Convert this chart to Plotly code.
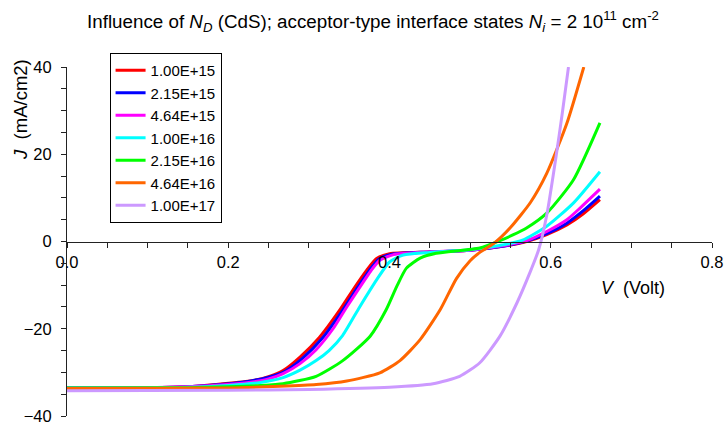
import plotly.graph_objects as go

# Donor density of the CdS layer (legend labels)
labels = ["1.00E+15", "2.15E+15", "4.64E+15", "1.00E+16", "2.15E+16", "4.64E+16", "1.00E+17"]
colors = ["#FF0000", "#0000FF", "#FF00FF", "#00FFFF", "#00FF00", "#FF6600", "#CC99FF"]

# J-V curves: voltage (V) and current density (mA/cm2)
v_1e15 = [0.0, 0.10, 0.15, 0.185, 0.227, 0.25, 0.268, 0.289, 0.313, 0.338, 0.355, 0.372, 0.384, 0.40, 0.45, 0.50, 0.54, 0.57, 0.595, 0.62, 0.64, 0.661]
j_1e15 = [-33.6, -33.5, -33.3, -32.8, -32.0, -31.0, -29.6, -26.5, -22.0, -15.8, -11.0, -6.5, -3.9, -2.8, -2.4, -2.0, -1.1, 0.0, 1.6, 3.8, 6.3, 9.6]

v_215e15 = [0.0, 0.10, 0.15, 0.19, 0.23, 0.25, 0.27, 0.292, 0.316, 0.341, 0.358, 0.375, 0.387, 0.403, 0.45, 0.50, 0.54, 0.57, 0.595, 0.62, 0.64, 0.661]
j_215e15 = [-33.6, -33.5, -33.3, -32.8, -31.9, -31.1, -29.8, -26.8, -22.3, -16.0, -11.2, -6.6, -4.0, -2.9, -2.4, -2.0, -1.1, 0.1, 1.8, 4.2, 7.0, 10.4]

v_464e15 = [0.0, 0.10, 0.15, 0.19, 0.23, 0.25, 0.268, 0.289, 0.309, 0.33, 0.347, 0.362, 0.377, 0.388, 0.405, 0.45, 0.50, 0.54, 0.57, 0.595, 0.62, 0.636, 0.661]
j_464e15 = [-33.6, -33.5, -33.3, -32.9, -32.2, -31.5, -30.3, -28.0, -24.8, -20.0, -15.0, -10.8, -6.7, -4.3, -3.0, -2.4, -2.0, -1.0, 0.2, 2.3, 5.0, 7.6, 12.0]

v_1e16 = [0.0, 0.10, 0.15, 0.20, 0.24, 0.268, 0.289, 0.309, 0.325, 0.342, 0.363, 0.384, 0.40, 0.417, 0.45, 0.50, 0.54, 0.565, 0.595, 0.628, 0.661]
j_1e16 = [-33.6, -33.5, -33.4, -33.0, -32.3, -31.2, -29.5, -27.3, -25.0, -21.5, -15.0, -8.8, -4.7, -3.1, -2.5, -1.9, -0.8, 0.3, 3.5, 8.8, 16.0]

v_215e16 = [0.0, 0.15, 0.20, 0.24, 0.268, 0.309, 0.342, 0.376, 0.396, 0.409, 0.421, 0.438, 0.458, 0.512, 0.537, 0.553, 0.570, 0.595, 0.628, 0.661]
j_215e16 = [-33.6, -33.5, -33.3, -33.0, -32.6, -30.9, -27.3, -21.7, -15.6, -10.3, -6.1, -3.8, -2.7, -1.5, 0.2, 1.5, 3.1, 6.5, 14.1, 27.2]

v_464e16 = [0.0, 0.20, 0.264, 0.309, 0.347, 0.388, 0.413, 0.438, 0.463, 0.483, 0.50, 0.512, 0.529, 0.55, 0.575, 0.595, 0.62, 0.641]
j_464e16 = [-33.7, -33.6, -33.2, -32.8, -32.0, -30.1, -27.3, -22.5, -15.6, -8.5, -4.4, -2.5, -0.5, 3.2, 9.0, 15.6, 27.1, 40.0]

v_1e17 = [0.0, 0.20, 0.30, 0.40, 0.454, 0.487, 0.512, 0.537, 0.558, 0.574, 0.585, 0.595, 0.607, 0.614, 0.622]
j_1e17 = [-34.2, -34.1, -33.9, -33.4, -32.6, -30.9, -27.8, -21.7, -14.1, -7.2, -1.9, 6.0, 20.0, 29.0, 40.0]

voltages = [v_1e15, v_215e15, v_464e15, v_1e16, v_215e16, v_464e16, v_1e17]
currents = [j_1e15, j_215e15, j_464e15, j_1e16, j_215e16, j_464e16, j_1e17]

FONT = "Liberation Sans, Arial, sans-serif"
AXIS = "#222"

fig = go.Figure()
for name, col, v, j in zip(labels, colors, voltages, currents):
    fig.add_trace(go.Scatter(
        x=v, y=j, name=name, mode="lines",
        line=dict(color=col, width=3, shape="spline", smoothing=0.6),
    ))

fig.update_layout(
    width=725, height=423,
    margin=dict(l=67, r=13, t=67, b=7, autoexpand=False),
    paper_bgcolor="white", plot_bgcolor="white",
    font=dict(family=FONT, size=16, color="black"),
    showlegend=True,
    legend=dict(
        x=0.066, y=1.04, xanchor="left", yanchor="top",
        bgcolor="white", bordercolor="black", borderwidth=1,
        font=dict(family=FONT, size=15, color="black"),
        itemwidth=30, tracegroupgap=0,
    ),
    xaxis=dict(
        range=[0, 0.8], anchor="free", position=0.5, automargin=False,
        showgrid=False, zeroline=False,
        showline=True, linecolor=AXIS, linewidth=1,
        tick0=0, dtick=0.2, tickformat=".1f",
        ticks="outside", ticklen=5, tickwidth=1, tickcolor=AXIS,
        ticklabelstandoff=1, ticklabeloverflow="allow",
        minor=dict(dtick=0.05, ticks="outside", ticklen=5, tickwidth=1, tickcolor=AXIS),
        tickfont=dict(family=FONT, size=16.5),
    ),
    yaxis=dict(
        range=[-40, 40], automargin=False,
        showgrid=False, zeroline=False,
        showline=True, linecolor=AXIS, linewidth=1,
        tick0=0, dtick=20,
        ticks="outside", ticklen=5, tickwidth=1, tickcolor=AXIS,
        ticklabelstandoff=6, ticklabeloverflow="allow",
        minor=dict(dtick=5, ticks="outside", ticklen=5, tickwidth=1, tickcolor=AXIS),
        tickfont=dict(family=FONT, size=16.5),
    ),
    annotations=[
        dict(
            text="Influence of <i>N</i><sub><i>D</i></sub> (CdS); acceptor-type interface states "
                 "<i>N</i><sub><i>i</i></sub> = 2 10<sup>11</sup> cm<sup>-2</sup>",
            xref="paper", yref="paper", x=0.474, y=1.129,
            xanchor="center", yanchor="middle", showarrow=False,
            font=dict(family=FONT, size=18.8),
        ),
        dict(
            text="<i>V</i>  (Volt)", xref="paper", yref="paper",
            x=0.878, y=0.366, xanchor="center", yanchor="middle", showarrow=False,
            font=dict(family=FONT, size=18),
        ),
        dict(
            text="<i>J</i>  (mA/cm2)", xref="paper", yref="paper",
            x=-0.0713, y=0.877, xanchor="center", yanchor="middle", showarrow=False,
            textangle=-90, font=dict(family=FONT, size=18.5),
        ),
    ],
)

fig.write_html("out.html")
